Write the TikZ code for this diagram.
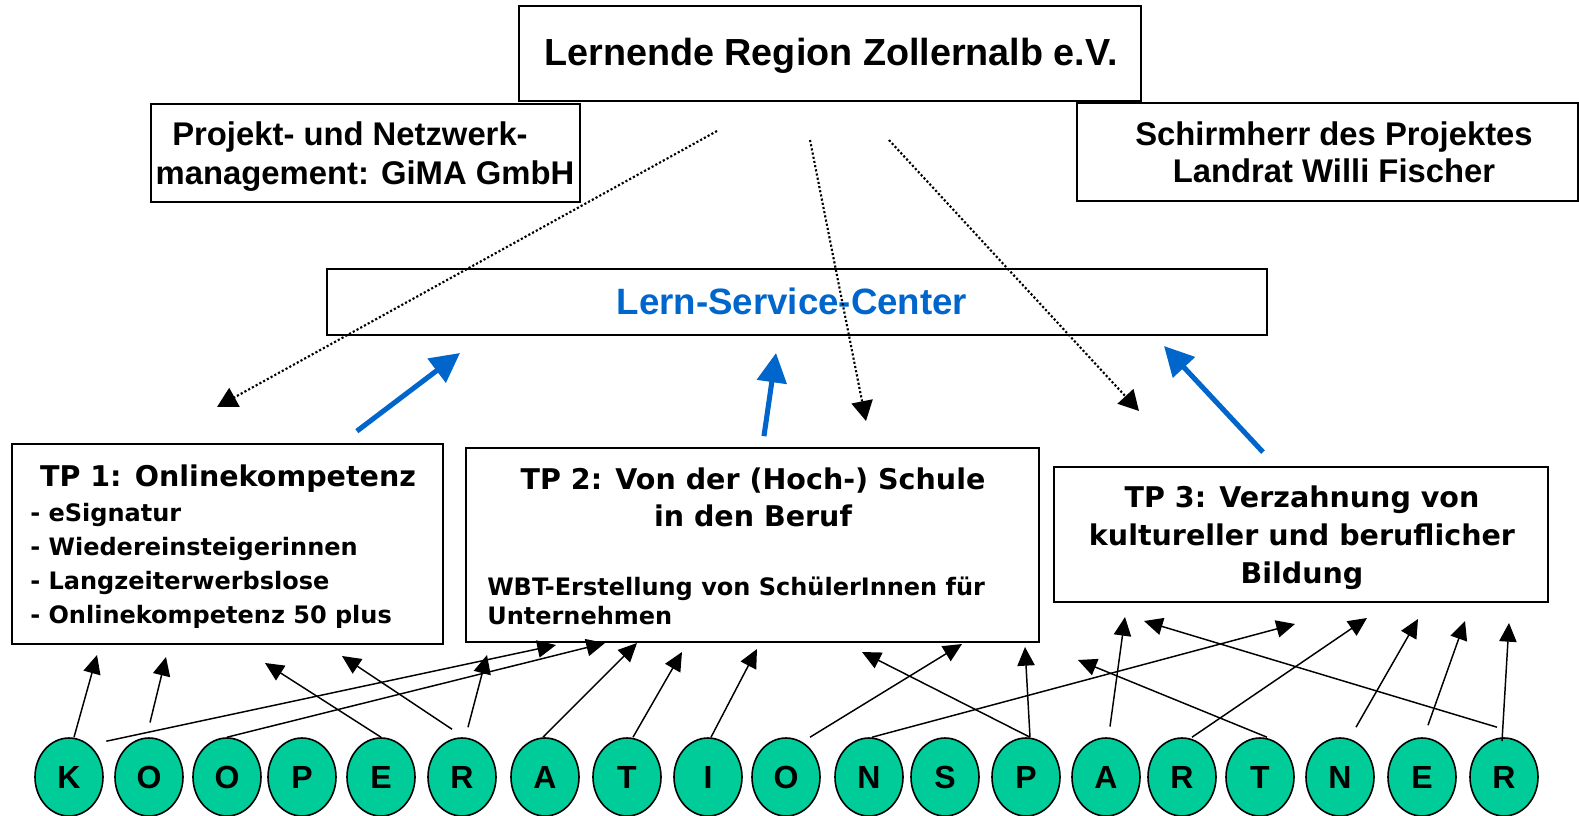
\documentclass[tikz,border=0pt]{standalone}
\usepackage{fontspec}
\setmainfont{Liberation Sans}
\newfontfamily\tpfont{DejaVu Sans}
\usetikzlibrary{shapes.geometric,arrows.meta}

\definecolor{lscblau}{RGB}{0,102,204}
\definecolor{partnergruen}{RGB}{0,204,153}

\tikzset{
  kasten/.style={draw,line width=1.3pt,inner sep=0pt},
  txt/.style={anchor=base,inner sep=0pt},
  partner/.style={ellipse,draw,line width=1.2pt,fill=partnergruen,inner sep=0pt,
    minimum width=51pt,minimum height=58.5pt,font=\fontsize{24}{24}\selectfont\bfseries},
  pfeil/.style={line width=1.1pt,-{Triangle[length=14pt,width=13pt]}},
  punktpfeil/.style={line width=1.6pt,dash pattern=on 1.6pt off 1.6pt,-{Triangle[length=15pt,width=16pt]}},
  blaupfeil/.style={lscblau,line width=3.8pt,-{Triangle[length=22pt,width=22pt]}}
}

\begin{document}
\begin{tikzpicture}[x=0.75pt,y=-0.75pt]
    \useasboundingbox (0,0) rectangle (1579,815);

    % Kaesten
    \node[kasten,minimum width=466.5pt,minimum height=71.25pt] (verein) at (830,53.5) {};
    \node[kasten,minimum width=321.75pt,minimum height=73.5pt] (gima) at (365.5,153) {};
    \node[kasten,minimum width=375.75pt,minimum height=73.5pt] (schirm) at (1327.5,152) {};
    \node[kasten,minimum width=705pt,minimum height=49.5pt] (lsc) at (797,302) {};
    \node[kasten,minimum width=323.25pt,minimum height=150pt] (tp1) at (227.5,544) {};
    \node[kasten,minimum width=429.75pt,minimum height=145.5pt] (tp2) at (752.5,545) {};
    \node[kasten,minimum width=370.5pt,minimum height=101.25pt] (tp3) at (1301,534.5) {};

    % Texte
    \node[txt,font=\fontsize{28.3}{30}\selectfont\bfseries] at (831,65) {Lernende Region Zollernalb e.V.};
    \node[txt,font=\fontsize{24.6}{26}\selectfont\bfseries] at (350,145) {Projekt- und Netzwerk-};
    \node[txt,font=\fontsize{24.6}{26}\selectfont\bfseries] at (365,184) {management: GiMA GmbH};
    \node[txt,font=\fontsize{24.6}{26}\selectfont\bfseries] at (1334,145) {Schirmherr des Projektes};
    \node[txt,font=\fontsize{24.6}{26}\selectfont\bfseries] at (1334,182) {Landrat Willi Fischer};
    \node[txt,lscblau,font=\fontsize{27.5}{30}\selectfont\bfseries] at (792,314) {Lern-Service-Center};

    \node[txt,font=\tpfont\fontsize{21.4}{24}\selectfont\bfseries] at (228,486) {TP 1: Onlinekompetenz};
    \foreach \zeile/\y in {eSignatur/521,Wiedereinsteigerinnen/555,Langzeiterwerbslose/589,Onlinekompetenz 50 plus/623}
        \node[txt,anchor=base west,font=\tpfont\fontsize{18}{20}\selectfont\bfseries] at (30,\y) {- \zeile};

    \node[txt,font=\tpfont\fontsize{21.4}{24}\selectfont\bfseries] at (753,489) {TP 2: Von der (Hoch-) Schule};
    \node[txt,font=\tpfont\fontsize{21.4}{24}\selectfont\bfseries] at (753,526) {in den Beruf};
    \node[txt,anchor=base west,font=\tpfont\fontsize{18}{20}\selectfont\bfseries] at (487,595) {WBT-Erstellung von SchülerInnen für};
    \node[txt,anchor=base west,font=\tpfont\fontsize{18}{20}\selectfont\bfseries] at (487,624) {Unternehmen};

    \node[txt,font=\tpfont\fontsize{21.4}{24}\selectfont\bfseries] at (1302,507) {TP 3: Verzahnung von};
    \node[txt,font=\tpfont\fontsize{21.4}{24}\selectfont\bfseries] at (1302,545) {kultureller und beruflicher};
    \node[txt,font=\tpfont\fontsize{21.4}{24}\selectfont\bfseries] at (1302,583) {Bildung};

    % Kooperationspartner
    \foreach \name/\buchst/\x in {k1/K/69,o1/O/149,o2/O/227,p1/P/302,e1/E/381,r1/R/462,a1/A/545,
        t1/T/627,i1/I/708,o3/O/786,n1/N/869,s1/S/945,p2/P/1026,a2/A/1106,r2/R/1182,t2/T/1260,
        n2/N/1340,e2/E/1422,r3/R/1504}
        \node[partner] (\name) at (\x,777) {\buchst};

    % freie Enden
    \foreach \name/\x/\y in {lrz1/717/131,lrz2/810/140,lrz3/889/140,
        ziel1/217/407,ziel2/866/421,ziel3/1139/411,
        lsc1/460/353,lsc2/776/353,lsc3/1164/346,
        tp1a/97/655,tp1b/166/657,tp1c/265/663,tp1d/342/656,
        tp2a/556/645,tp2b/605/643,tp2c/487/655,tp2d/637/643,tp2e/682/652,
        tp2f/757/649,tp2g/962/644,tp2h/862/652,tp2i/1025/647,
        tp3a/1295/624,tp3b/1125/617,tp3c/1078/660,tp3d/1367/618,
        tp3e/1418/619,tp3f/1465/621,tp3g/1144/621,tp3h/1509/623}
        \coordinate (\name) at (\x,\y);

    % Pfeile
    \draw[blaupfeil] ([xshift=97pt,yshift=9pt]tp1.north) -- (lsc1);
    \draw[blaupfeil] ([xshift=8.6pt,yshift=8.25pt]tp2.north) -- (lsc2);
    \draw[blaupfeil] ([xshift=-28.5pt,yshift=10.5pt]tp3.north) -- (lsc3);

    \draw[punktpfeil] (lrz1) -- (ziel1);
    \draw[punktpfeil] (lrz2) -- (ziel2);
    \draw[punktpfeil] (lrz3) -- (ziel3);

    \foreach \von/\dx/\dy/\nach in {k1/3.75/0/tp1a,o1/0.75/11/tp1b,e1/0/0/tp1c,r1/-7.5/6/tp1d,
        k1/28/-3/tp2a,o2/0/0/tp2b,r1/4.5/7.5/tp2c,a1/-1.5/0/tp2d,t1/4.5/0/tp2e,
        i1/2.25/0/tp2f,o3/18/0/tp2g,p2/3/0/tp2h,p2/3/0/tp2i,
        n1/2.25/0/tp3a,a2/3/8/tp3b,t2/5.25/0/tp3c,r2/7.5/0/tp3d,
        n2/12/7.5/tp3e,e2/4.5/9/tp3f,r3/-5.25/7.5/tp3g,r3/-1.5/-3/tp3h}
        \draw[pfeil] ([xshift=\dx pt,yshift=\dy pt]\von.north) -- (\nach);
\end{tikzpicture}
\end{document}
